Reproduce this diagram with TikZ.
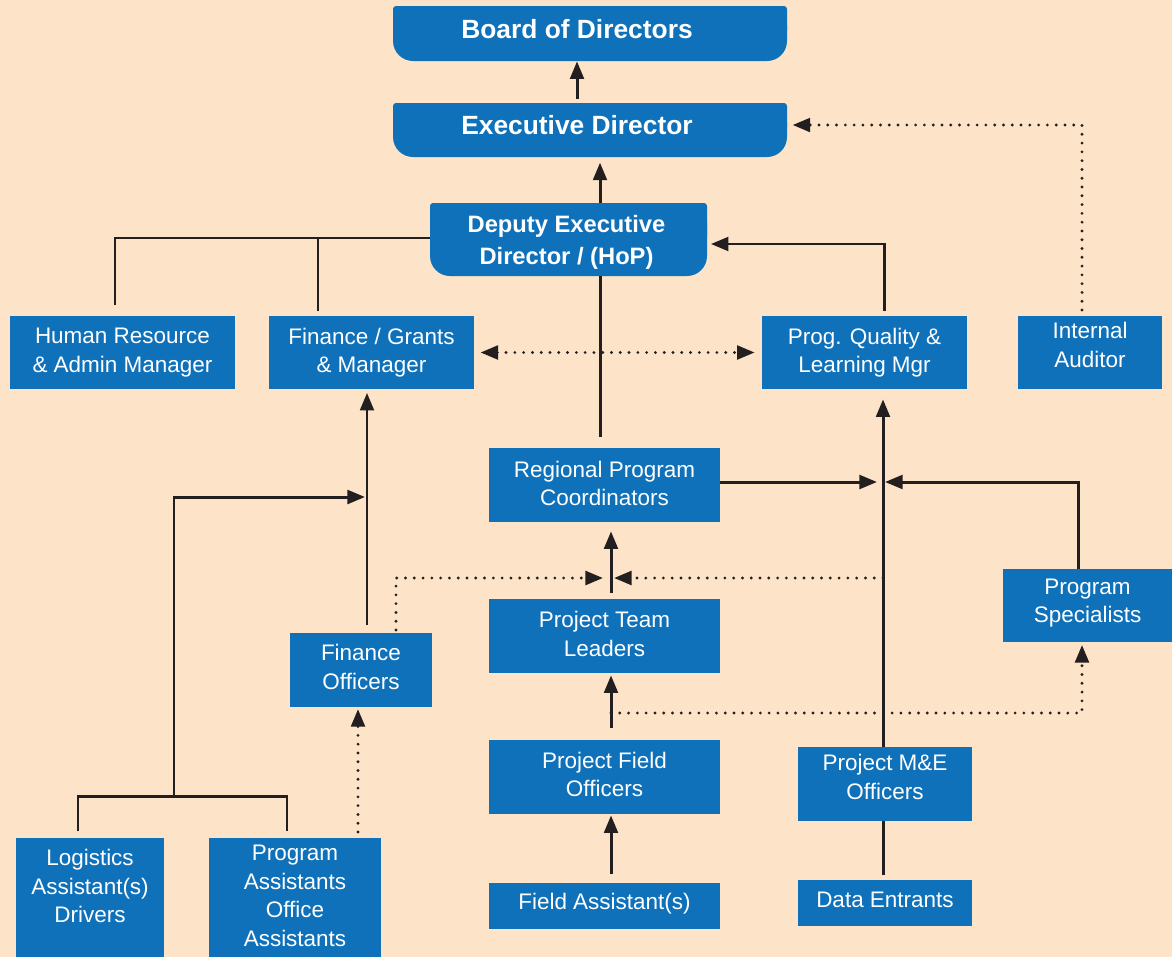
\documentclass[tikz,border=0pt]{standalone}
\usepackage{fontspec}
\setmainfont{Liberation Sans}
\usetikzlibrary{arrows.meta,calc}
\definecolor{bg}{RGB}{253,228,200}
\definecolor{boxblue}{RGB}{14,113,186}
\definecolor{ink}{RGB}{35,31,32}
% name, x1, y1, x2, y2, dy, text
\newcommand\obox[7]{%
  \node[box, minimum width={(#4-#2)*0.02cm}, minimum height={(#5-#3)*0.02cm}] (#1) at ({(#2+#4)/2},{(#3+#5)/2}) {};
  \node[boxtxt] (#1-t) at ([yshift={-(#6)*0.02cm}]#1.center) {#7};}
% name, x1, y1, x2, y2, dy, dx, text
\newcommand\tbox[8]{%
  \fill[boxblue, rounded corners=0.4cm] (#2,#3) rectangle (#4,#5);
  \fill[boxblue, rounded corners=0.06cm] (#2,#3) rectangle (#4,{(#3+#5)/2});
  \node[inner sep=0pt, minimum width={(#4-#2)*0.02cm}, minimum height={(#5-#3)*0.02cm}] (#1) at ({(#2+#4)/2},{(#3+#5)/2}) {};
  \node[toptxt] (#1-t) at ([yshift={-(#6)*0.02cm}, xshift={(#7)*0.02cm}]#1.center) {#8};}
\begin{document}
\begin{tikzpicture}[x=0.02cm, y=-0.02cm,
  box/.style={fill=boxblue, inner sep=0pt},
  boxtxt/.style={inner sep=0pt, text=white, align=center, font=\fontsize{12.8}{16.2}\selectfont},
  toptxt/.style={inner sep=0pt, text=white, align=center, font=\bfseries\fontsize{13.5}{18}\selectfont},
  ln/.style={draw=ink, line width=1.7pt},
  arr/.style={ln, -{Triangle[length=10pt,width=7.8pt]}},
  dotln/.style={draw=ink, line width=1.8pt, line cap=round, dash pattern=on 0pt off 5pt},
  dotarr/.style={dotln, -{Triangle[length=10pt,width=7.8pt]}},
  dotarrs/.style={dotln, {Triangle[length=10pt,width=7.8pt]}-{Triangle[length=10pt,width=7.8pt]}}]
\fill[bg] (0,0) rectangle (1172,957);
\useasboundingbox (0,0) rectangle (1172,957);

% top boxes
\tbox{board}{393}{6}{787}{61}{-4.5}{-13}{\fontsize{15}{18}\selectfont Board of Directors}
\tbox{ed}{393}{103}{787}{157}{-4.5}{-13}{\fontsize{15}{18}\selectfont Executive Director}
\tbox{dep}{430}{203}{707}{276}{3}{-2}{Deputy Executive\\Director / (HoP)}

% boxes
\obox{hr}{10}{316}{235}{389}{0}{Human Resource\\\& Admin Manager}
\obox{fg}{269}{316}{474}{389}{0}{Finance / Grants\\\& Manager}
\obox{pq}{762}{316}{967}{389}{0}{Prog. Quality \&\\Learning Mgr}
\obox{ia}{1018}{316}{1162}{389}{-7.5}{Internal\\Auditor}
\obox{rpc}{489}{448}{720}{522}{-1.5}{Regional Program\\Coordinators}
\obox{ptl}{489}{599}{720}{673}{-2}{Project Team\\Leaders}
\obox{fo}{290}{633}{432}{707}{-3}{Finance\\Officers}
\obox{ps}{1003}{569}{1172}{642}{-2.5}{Program\\Specialists}
\obox{pfo}{489}{740}{720}{814}{-2.5}{Project Field\\Officers}
\obox{me}{798}{747}{972}{821}{-7}{Project M\&E\\Officers}
\obox{fa}{489}{883}{720}{929}{-2}{Field Assistant(s)}
\obox{de}{798}{880}{972}{926}{-3.5}{Data Entrants}
\obox{log}{16}{838}{164}{957}{-11.5}{Logistics\\Assistant(s)\\Drivers}
\obox{pa}{209}{838}{381}{957}{-1.5}{Program\\Assistants\\Office\\Assistants}

% coordinates for free line ends
\coordinate (edtop) at (577,99);
\coordinate (x600) at (600,0);
\coordinate (hrtop) at (115,305);
\coordinate (fgtop) at (318,311);
\coordinate (pqtop) at (884,311);
\coordinate (iatop) at (1082,310);
\coordinate (rpctop) at (600,437);
\coordinate (fotop) at (367,625);
\coordinate (logtop) at (78,831);
\coordinate (patop) at (287,831);
\coordinate (brk) at (174,796);
\coordinate (fin) at (365,497);
\coordinate (padot) at (358,832);
\coordinate (fodot) at (396,630);
\coordinate (ptltop) at (611,593);
\coordinate (midL) at (603,578);
\coordinate (midR) at (614,578);
\coordinate (bus) at (883,578);
\coordinate (busL) at (877,482);
\coordinate (busR) at (885,482);
\coordinate (pstop) at (1078,569);
\coordinate (metop) at (883,747);
\coordinate (mebot) at (883,821);
\coordinate (detop) at (883,875);
\coordinate (pfotop) at (611,728);
\coordinate (pfodot) at (611,713);
\coordinate (psdot) at (1082,713);
\coordinate (fatop) at (611,874);

% solid connectors
\draw[arr] (edtop) -- (edtop |- board.south);
\draw[arr, shorten >=3pt] (dep.north -| x600) -- (ed.south -| x600);
\draw[ln] (dep.west |- 0,238) -| (hrtop);
\draw[ln] (fgtop |- 0,238) -- (fgtop);
\draw[arr, shorten >=2pt] (pqtop) |- ([yshift={-4.5*0.02cm}]dep.east);
\draw[ln] (rpctop) -- (rpctop |- dep.south);
\draw[arr, shorten >=2pt] (fotop) -- (fotop |- fg.south);
\draw[ln] (logtop) |- (patop |- brk) -- (patop);
\draw[arr] (brk) |- (fin);
\draw[arr] (ptltop) -- ([yshift={-9*0.02cm}]ptltop |- rpc.south);
\draw[arr] ([yshift={3*0.02cm}]rpc.east) -- (busL);
\draw[arr] (pstop) |- (busR);
\draw[arr] (metop) -- ([yshift={-10*0.02cm}]metop |- pq.south);
\draw[ln] (detop) -- (mebot);
\draw[arr] (pfotop) -- ([yshift={-2*0.02cm}]pfotop |- ptl.south);
\draw[arr] (fatop) -- ([yshift={-1*0.02cm}]fatop |- pfo.south);

% dotted connectors
\draw[dotarr, shorten >=3pt] (iatop) |- ([yshift={5*0.02cm}]ed.east);
\draw[dotarrs, shorten <=3.5pt, shorten >=4pt] (fg.east) -- (pq.west);
\draw[dotarr, shorten >=1pt] (padot) -- (padot |- fo.south);
\draw[dotarr] (fodot) |- (midL);
\draw[dotarr] (bus) -- (midR);
\draw[dotarr, shorten >=1.5pt] (pfodot) -| (psdot |- ps.south);
\end{tikzpicture}
\end{document}
